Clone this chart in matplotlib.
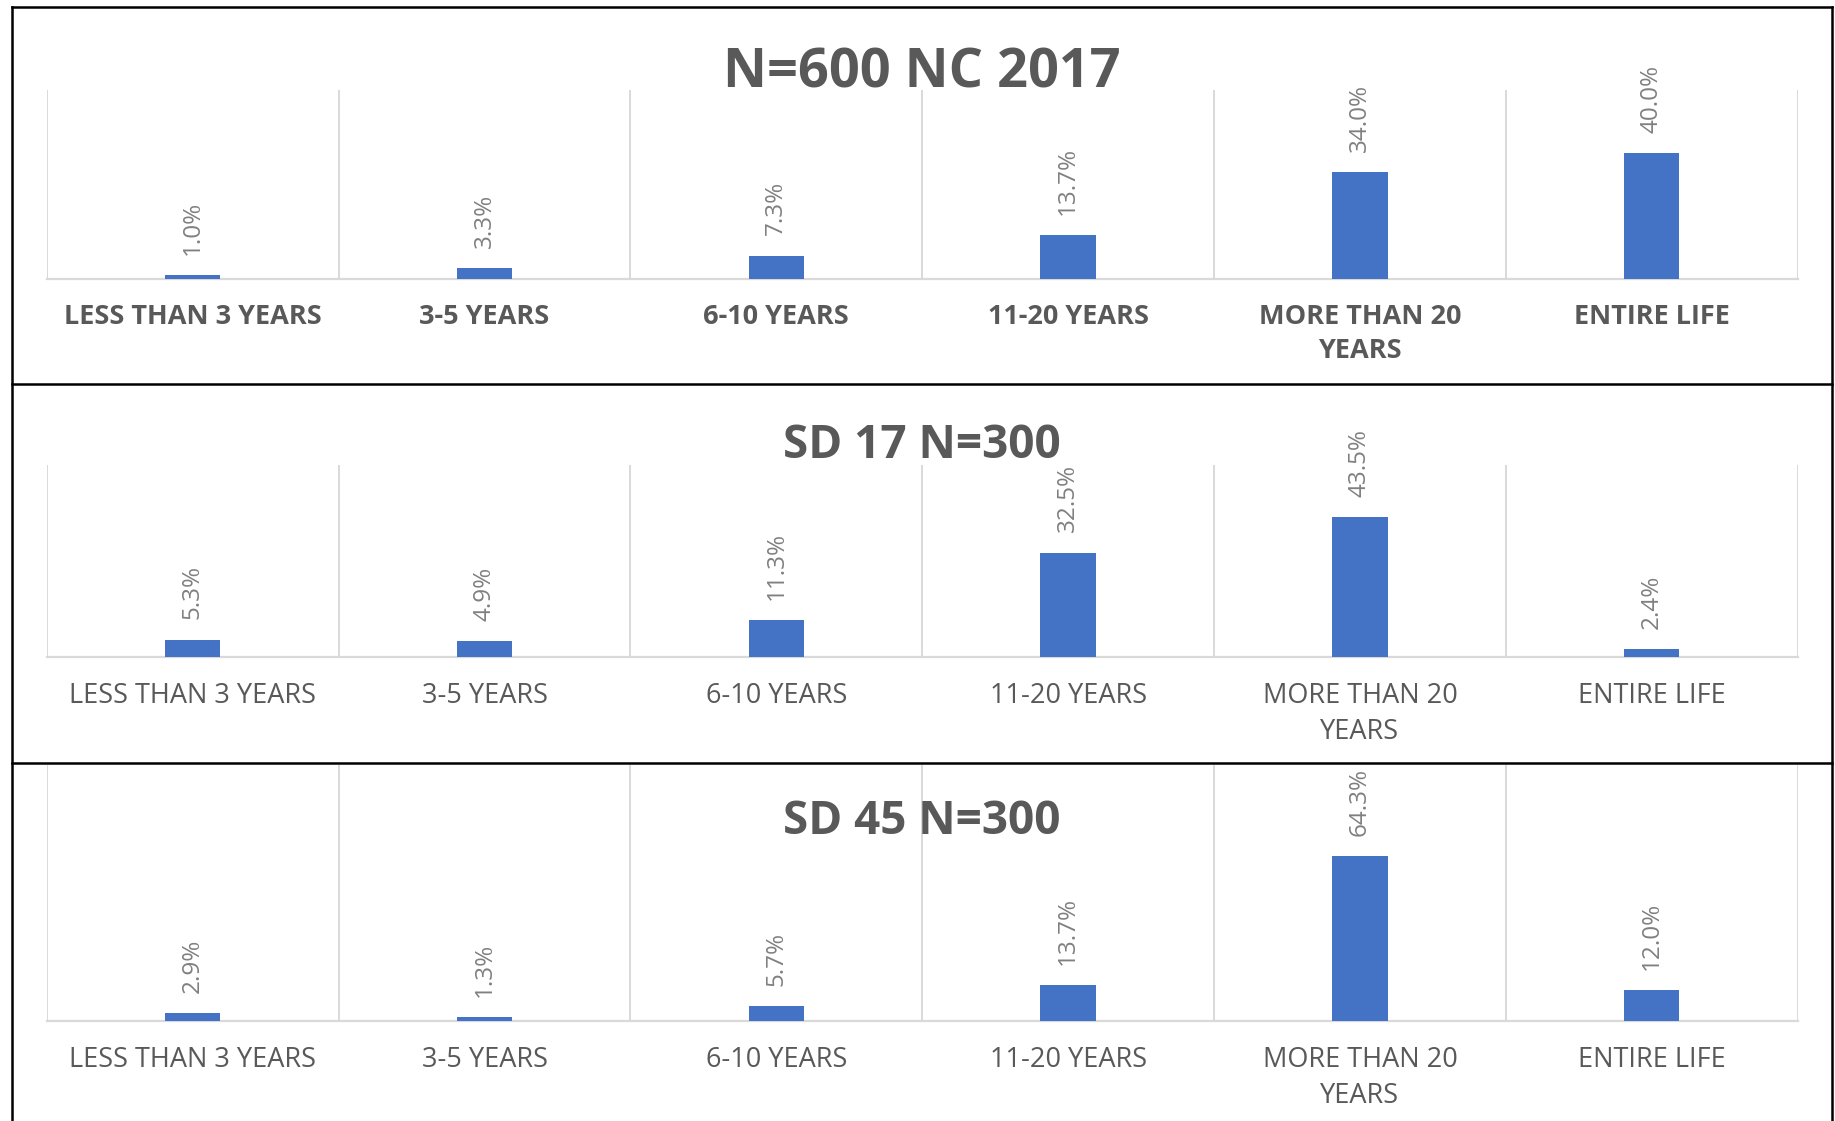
import matplotlib
matplotlib.use("Agg")
from matplotlib import pyplot as plt
from matplotlib.lines import Line2D
import numpy as np

plt.rcParams['font.family'] = ['Open Sans', 'DejaVu Sans']

categories = ["LESS THAN 3 YEARS", "3-5 YEARS", "6-10 YEARS", "11-20 YEARS",
              "MORE THAN 20\nYEARS", "ENTIRE LIFE"]

titles = ["N=600 NC 2017", "SD 17 N=300", "SD 45 N=300"]
nc_2017 = [1.0, 3.3, 7.3, 13.7, 34.0, 40.0]
sd_17 = [5.3, 4.9, 11.3, 32.5, 43.5, 2.4]
sd_45 = [2.9, 1.3, 5.7, 13.7, 64.3, 12.0]
y_max = [60, 60, 100]

W, H = 1835, 1121
fig = plt.figure(figsize=(W / 100, H / 100), dpi=100)

def px(x0, top, bottom, x1):
    # pixel box -> figure fraction rect
    return [x0 / W, 1 - bottom / H, (x1 - x0) / W, (bottom - top) / H]

axes_boxes = [(90, 278.5), (464.6, 656.5), (765, 1020.5)]
title_y = [1.013, 1.036, 0.730]
title_size = [39, 33, 33]
bold_ticks = [True, False, False]

blue = "#4472C4"
grid_c = "#D9D9D9"
text_c = "#595959"
label_c = "#808080"

for i, vals in enumerate([nc_2017, sd_17, sd_45]):
    top, bottom = axes_boxes[i]
    ax = fig.add_axes(px(46.8, top, bottom, 1797.6))
    x = np.arange(len(categories))
    bars = ax.bar(x, vals, width=0.19, color=blue, zorder=3)
    for b, v in zip(bars, vals):
        ax.annotate(f"{v:.1f}%", (b.get_x() + b.get_width() / 2, b.get_height()),
                    xytext=(0, 14.5), textcoords="offset points", rotation=90,
                    ha="center", va="bottom", fontsize=17.5, color=label_c)
    ax.set_xlim(-0.5, len(categories) - 0.5)
    ax.set_ylim(0, y_max[i])
    ax.set_yticks([])
    ax.set_xticks(x)
    ax.set_xticklabels(categories, fontsize=19.5, color=text_c,
                       fontweight="bold" if bold_ticks[i] else "normal",
                       linespacing=1.38)
    ax.set_xticks(np.arange(-0.5, len(categories)), minor=True)
    ax.tick_params(axis="x", which="both", length=0, pad=18.5)
    ax.grid(which="minor", axis="x", color=grid_c, lw=1.4, zorder=1)
    for s in ["top", "left", "right"]:
        ax.spines[s].set_visible(False)
    ax.spines["bottom"].set_color(grid_c)
    ax.spines["bottom"].set_linewidth(1.6)
    ax.patch.set_alpha(0)
    ax.text(0.5, title_y[i], titles[i], transform=ax.transAxes, ha="center",
            va="baseline", fontsize=title_size[i], fontweight="bold", color=text_c,
            zorder=2)

# panel frames
xl, xr = 11.7 / W, 1831.5 / W
yt = 1 - 7 / H
for yy in [yt, 1 - 384 / H, 1 - 763 / H]:
    fig.add_artist(Line2D([xl, xr], [yy, yy], color="black", lw=1.8))
for xx in [xl, xr]:
    fig.add_artist(Line2D([xx, xx], [0, yt], color="black", lw=1.8))

fig.savefig("out.png", dpi=100)
